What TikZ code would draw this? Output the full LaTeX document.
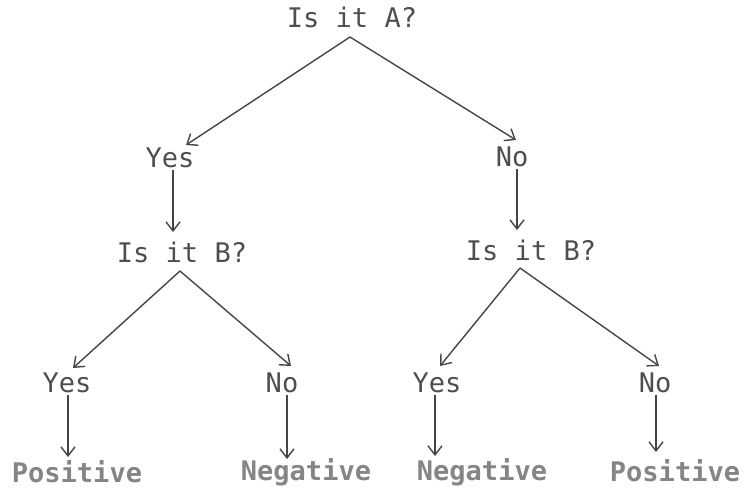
\documentclass[tikz,border=0pt]{standalone}
\usepackage{fontspec}
\setmonofont{DejaVu Sans Mono}
\usetikzlibrary{arrows.meta}
\definecolor{ink}{HTML}{4E4E4E}
\definecolor{lineink}{HTML}{454545}
\definecolor{leafink}{HTML}{858585}
\begin{document}
\begin{tikzpicture}[x=1pt,y=-1pt,
  lbl/.style={text=ink,font=\ttfamily\fontsize{27}{27}\selectfont,inner sep=2pt},
  leaf/.style={text=leafink,font=\ttfamily\bfseries\fontsize{27}{27}\selectfont,inner sep=2pt},
  arr/.style={draw=lineink,line width=1.4pt,-{Straight Barb[length=9pt,width=14pt,line width=1.4pt]}}]
\useasboundingbox (0,0) rectangle (747,498);
\node[lbl] (A) at (352,17) {Is it A?};
\node[lbl] (Y1) at (170,158) {Yes};
\node[lbl] (N1) at (512,157) {No};
\node[lbl] (B1) at (182,252) {Is it B?};
\node[lbl] (B2) at (531,250) {Is it B?};
\node[lbl] (Y2) at (67,383) {Yes};
\node[lbl] (N2) at (282,383) {No};
\node[lbl] (Y3) at (437,383) {Yes};
\node[lbl] (N3) at (655,383) {No};
\node[leaf] (L1) at (77,472) {Positive};
\node[leaf] (L2) at (306,472) {Negative};
\node[leaf] (L3) at (482,472) {Negative};
\node[leaf] (L4) at (675,471) {Positive};
\coordinate (Ab) at (350,37);
\coordinate (B1b) at (180,271);
\coordinate (B2b) at (520,268);
\draw[arr] (Ab) -- (186,145);
\draw[arr] (Ab) -- (516,140);
\draw[arr] (Y1.south -| 173,0) -- (173,232);
\draw[arr] (N1.south -| 517,0) -- (517,230);
\draw[arr] (B1b) -- (73,368);
\draw[arr] (B1b) -- (291,366);
\draw[arr] (B2b) -- (440,366);
\draw[arr] (B2b) -- (659,366);
\draw[arr] (Y2.south -| 68,0) -- (68,457);
\draw[arr] (N2.south -| 287,0) -- (287,459);
\draw[arr] (Y3.south -| 435,0) -- (435,456);
\draw[arr] (N3.south -| 656,0) -- (656,452);
\end{tikzpicture}
\end{document}
